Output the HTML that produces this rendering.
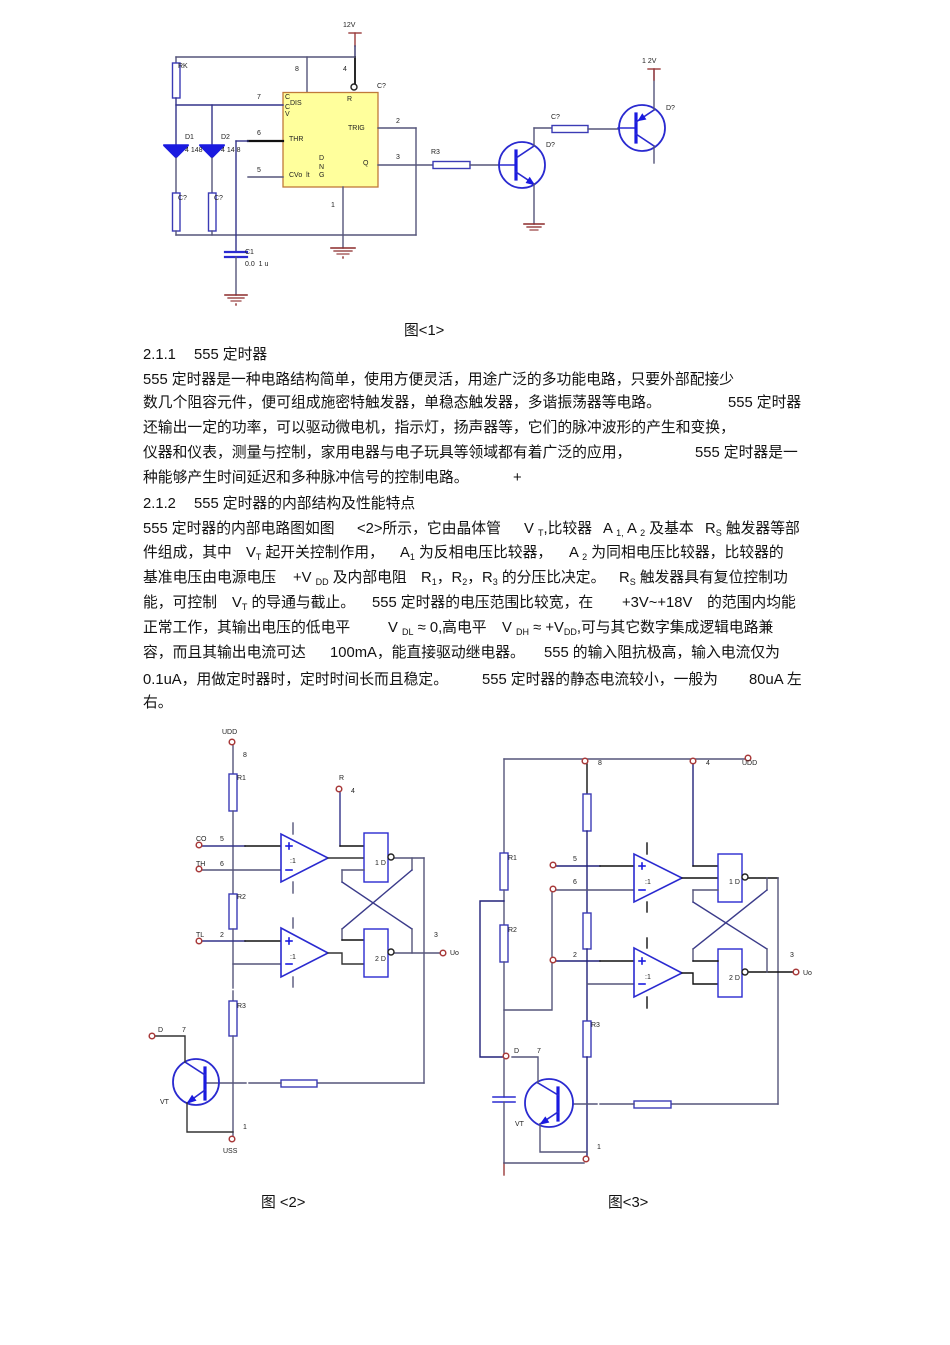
<!DOCTYPE html>
<html>
<head>
<meta charset="utf-8">
<style>
html,body{margin:0;padding:0;background:#fff;}
body{width:950px;height:1345px;position:relative;overflow:hidden;}
svg{position:absolute;left:0;top:0;}
.t{position:absolute;font-family:"Liberation Sans","Noto Sans CJK SC",sans-serif;font-size:14.8px;line-height:20px;white-space:nowrap;color:#111;}
.t sub{font-size:9px;vertical-align:-3px;line-height:0;}
</style>
</head>
<body>
<svg width="950" height="1345" viewBox="0 0 950 1345" xmlns="http://www.w3.org/2000/svg" font-family="Liberation Sans, sans-serif">
<g fill="none" stroke-width="1.4" stroke-linecap="square">
<!-- ================= FIG 1 ================= -->
<line x1="349" y1="33" x2="361" y2="33" stroke="#9a3a3a"/>
<line x1="355" y1="33" x2="355" y2="46" stroke="#9a3a3a"/>
<line x1="355" y1="46" x2="355" y2="57" stroke="#33336a"/>
<line x1="355" y1="57" x2="355" y2="84" stroke="#111" stroke-width="1.8"/>
<circle cx="354" cy="87" r="3" stroke="#222" fill="#fff"/>
<line x1="176" y1="57" x2="355" y2="57" stroke="#55557a"/>
<line x1="307" y1="57" x2="307" y2="92" stroke="#55557a"/>
<rect x="283" y="92.5" width="95" height="94.5" fill="#ffff9c" stroke="#c07a3a" stroke-width="1.3"/>
<line x1="176" y1="57" x2="176" y2="63" stroke="#55557a"/>
<rect x="172.5" y="63" width="7.5" height="35" stroke="#3b3bb5" fill="#fff"/>
<line x1="176" y1="98" x2="176" y2="145" stroke="#33338a"/>
<line x1="176" y1="105" x2="283" y2="105" stroke="#33338a"/>
<line x1="212" y1="105" x2="212" y2="145" stroke="#33338a"/>
<polygon points="164,146 188,146 176,158" fill="#1a1ae0" stroke="#1a1ae0" stroke-width="1"/>
<line x1="164" y1="145" x2="188" y2="145" stroke="#1a1ae0" stroke-width="1.6"/>
<polygon points="200,146 224,146 212,158" fill="#1a1ae0" stroke="#1a1ae0" stroke-width="1"/>
<line x1="200" y1="145" x2="224" y2="145" stroke="#1a1ae0" stroke-width="1.6"/>
<line x1="176" y1="158" x2="176" y2="193" stroke="#55557a"/>
<line x1="212" y1="158" x2="212" y2="193" stroke="#55557a"/>
<rect x="172.5" y="193" width="7.5" height="38" stroke="#3b3bb5" fill="#fff"/>
<rect x="208.5" y="193" width="7.5" height="38" stroke="#3b3bb5" fill="#fff"/>
<line x1="176" y1="231" x2="176" y2="235" stroke="#55557a"/>
<line x1="212" y1="231" x2="212" y2="235" stroke="#55557a"/>
<line x1="176" y1="235" x2="416" y2="235" stroke="#55557a"/>
<line x1="416" y1="128" x2="416" y2="235" stroke="#55557a"/>
<line x1="378" y1="128" x2="416" y2="128" stroke="#55557a"/>
<line x1="378" y1="165" x2="433" y2="165" stroke="#55557a"/>
<line x1="248" y1="141" x2="283" y2="141" stroke="#111" stroke-width="2.2"/>
<line x1="236" y1="141" x2="248" y2="141" stroke="#33338a"/>
<line x1="236" y1="141" x2="236" y2="252" stroke="#33338a"/>
<line x1="225" y1="252" x2="247" y2="252" stroke="#2a2ad0" stroke-width="2.2"/>
<line x1="225" y1="257" x2="247" y2="257" stroke="#2a2ad0" stroke-width="2.2"/>
<line x1="236" y1="257" x2="236" y2="295" stroke="#55557a"/>
<line x1="225" y1="295" x2="247" y2="295" stroke="#8b2a2a" stroke-width="1.6"/>
<line x1="228" y1="298" x2="244" y2="298" stroke="#8b2a2a" stroke-width="1.3"/>
<line x1="231" y1="301" x2="241" y2="301" stroke="#8b2a2a" stroke-width="1.1"/>
<line x1="236" y1="304" x2="236" y2="305" stroke="#8b2a2a"/>
<line x1="248" y1="177" x2="283" y2="177" stroke="#55557a"/>
<line x1="343" y1="187" x2="343" y2="248" stroke="#55557a"/>
<line x1="331" y1="248" x2="355" y2="248" stroke="#8b2a2a" stroke-width="1.6"/>
<line x1="334" y1="251" x2="352" y2="251" stroke="#8b2a2a" stroke-width="1.3"/>
<line x1="337" y1="254" x2="349" y2="254" stroke="#8b2a2a" stroke-width="1.1"/>
<line x1="343" y1="257" x2="343" y2="258" stroke="#8b2a2a"/>
<rect x="433" y="161.5" width="37" height="7" stroke="#3b3bb5" fill="#fff"/>
<line x1="470" y1="165" x2="499" y2="165" stroke="#55557a"/>
<circle cx="522" cy="165" r="23" stroke="#2a2ad0" stroke-width="1.8"/>
<line x1="499" y1="165" x2="516" y2="165" stroke="#2a2ad0"/>
<line x1="516" y1="151" x2="516" y2="179" stroke="#1a1ae0" stroke-width="3.2"/>
<line x1="516" y1="158" x2="534" y2="146" stroke="#2a2ad0" stroke-width="1.6"/>
<line x1="516" y1="172" x2="534" y2="184" stroke="#2a2ad0" stroke-width="1.6"/>
<polygon points="534,184.5 526.4,182.7 529.7,177.7" fill="#1a1ae0" stroke="#1a1ae0" stroke-width="1"/>
<line x1="534" y1="146" x2="534" y2="128" stroke="#55557a"/>
<line x1="534" y1="128" x2="552" y2="128" stroke="#55557a"/>
<line x1="534" y1="184" x2="534" y2="224" stroke="#55557a"/>
<line x1="524" y1="224" x2="544" y2="224" stroke="#8b2a2a" stroke-width="1.6"/>
<line x1="527" y1="227" x2="541" y2="227" stroke="#8b2a2a" stroke-width="1.3"/>
<line x1="530" y1="230" x2="538" y2="230" stroke="#8b2a2a" stroke-width="1.1"/>
<rect x="552" y="125.5" width="36" height="7" stroke="#3b3bb5" fill="#fff"/>
<line x1="588" y1="129" x2="618" y2="129" stroke="#55557a"/>
<circle cx="642" cy="128" r="23" stroke="#2a2ad0" stroke-width="1.8"/>
<line x1="618" y1="128" x2="636" y2="128" stroke="#2a2ad0"/>
<line x1="636" y1="114" x2="636" y2="142" stroke="#1a1ae0" stroke-width="3.2"/>
<line x1="636" y1="122" x2="654" y2="110" stroke="#2a2ad0" stroke-width="1.6"/>
<line x1="636" y1="134" x2="654" y2="146" stroke="#2a2ad0" stroke-width="1.6"/>
<polygon points="638.5,120.5 645.6,119.2 642.3,114.2" fill="#1a1ae0" stroke="#1a1ae0" stroke-width="1"/>
<line x1="654" y1="110" x2="654" y2="69" stroke="#55557a"/>
<line x1="648" y1="69" x2="660" y2="69" stroke="#9a3a3a"/>
<line x1="654" y1="69" x2="654" y2="80" stroke="#9a3a3a"/>
<line x1="654" y1="146" x2="654" y2="163" stroke="#55557a"/>

<!-- ================= FIG 2 ================= -->
<line x1="233" y1="745" x2="233" y2="774" stroke="#55557a"/>
<rect x="229" y="774" width="8" height="37" stroke="#3b3bb5" fill="#fff"/>
<line x1="233" y1="811" x2="233" y2="894" stroke="#55557a"/>
<rect x="229" y="894" width="8" height="35" stroke="#3b3bb5" fill="#fff"/>
<line x1="233" y1="929" x2="233" y2="988" stroke="#55557a"/>
<line x1="233" y1="991" x2="233" y2="1001" stroke="#55557a"/>
<rect x="229" y="1001" width="8" height="35" stroke="#3b3bb5" fill="#fff"/>
<line x1="233" y1="1036" x2="233" y2="1136" stroke="#55557a"/>
<line x1="202" y1="846" x2="245" y2="846" stroke="#33338a"/>
<line x1="245" y1="846" x2="281" y2="846" stroke="#111"/>
<line x1="202" y1="870" x2="281" y2="870" stroke="#55557a"/>
<polygon points="281,834 281,882 328,858" stroke="#2a2ad0" stroke-width="1.6" fill="#fff"/>
<line x1="293" y1="823" x2="293" y2="834" stroke="#55557a"/>
<line x1="293" y1="882" x2="293" y2="893" stroke="#55557a"/>
<line x1="286" y1="846" x2="292" y2="846" stroke="#1a1ae0" stroke-width="1.6"/>
<line x1="289" y1="843" x2="289" y2="849" stroke="#1a1ae0" stroke-width="1.6"/>
<line x1="286" y1="870" x2="292" y2="870" stroke="#1a1ae0" stroke-width="1.6"/>
<line x1="328" y1="858" x2="364" y2="858" stroke="#333"/>
<line x1="340" y1="792" x2="340" y2="846" stroke="#33338a"/>
<line x1="340" y1="846" x2="364" y2="846" stroke="#111"/>
<rect x="364" y="833" width="24" height="49" stroke="#2a2ad0" fill="#fff"/>
<line x1="394" y1="858" x2="424" y2="858" stroke="#55557a"/>
<line x1="424" y1="858" x2="424" y2="1083" stroke="#55557a"/>
<line x1="342" y1="870" x2="364" y2="870" stroke="#55557a"/>
<line x1="342" y1="870" x2="342" y2="882" stroke="#55557a"/>
<line x1="342" y1="882" x2="412" y2="929" stroke="#3b3b8a"/>
<line x1="412" y1="858" x2="412" y2="870" stroke="#55557a"/>
<line x1="412" y1="870" x2="342" y2="929" stroke="#3b3b8a"/>
<line x1="342" y1="929" x2="342" y2="940" stroke="#55557a"/>
<line x1="342" y1="940" x2="364" y2="940" stroke="#111"/>
<line x1="412" y1="929" x2="412" y2="953" stroke="#55557a"/>
<line x1="202" y1="941" x2="245" y2="941" stroke="#33338a"/>
<line x1="245" y1="941" x2="281" y2="941" stroke="#111"/>
<line x1="233" y1="964" x2="281" y2="964" stroke="#55557a"/>
<polygon points="281,928 281,977 328,953" stroke="#2a2ad0" stroke-width="1.6" fill="#fff"/>
<line x1="293" y1="918" x2="293" y2="928" stroke="#55557a"/>
<line x1="293" y1="977" x2="293" y2="987" stroke="#55557a"/>
<line x1="286" y1="941" x2="292" y2="941" stroke="#1a1ae0" stroke-width="1.6"/>
<line x1="289" y1="938" x2="289" y2="944" stroke="#1a1ae0" stroke-width="1.6"/>
<line x1="286" y1="964" x2="292" y2="964" stroke="#1a1ae0" stroke-width="1.6"/>
<polyline points="328,953 342,953 342,964 364,964" stroke="#333"/>
<rect x="364" y="929" width="24" height="48" stroke="#2a2ad0" fill="#fff"/>
<line x1="394" y1="953" x2="440" y2="953" stroke="#55557a"/>
<line x1="424" y1="1083" x2="317" y2="1083" stroke="#55557a"/>
<rect x="281" y="1080" width="36" height="7" stroke="#3b3bb5" fill="#fff"/>
<line x1="281" y1="1083" x2="249" y2="1083" stroke="#55557a"/>
<line x1="246" y1="1083" x2="207" y2="1083" stroke="#55557a"/>
<circle cx="196" cy="1082" r="23" stroke="#2a2ad0" stroke-width="1.8"/>
<line x1="205" y1="1068" x2="205" y2="1099" stroke="#1a1ae0" stroke-width="3.2"/>
<line x1="205" y1="1075" x2="185" y2="1062" stroke="#2a2ad0" stroke-width="1.6"/>
<line x1="205" y1="1090" x2="187" y2="1103" stroke="#2a2ad0" stroke-width="1.6"/>
<polygon points="187.5,1103 195.7,1100.4 192.1,1095.6" fill="#1a1ae0" stroke="#1a1ae0" stroke-width="1"/>
<polyline points="185,1062 185,1036 155,1036" stroke="#333"/>
<polyline points="187,1103 187,1132 233,1132" stroke="#333"/>
<g stroke="#a83a3a" stroke-width="1.5" fill="#fff">
<circle cx="232" cy="742" r="2.8"/>
<circle cx="339" cy="789" r="2.8"/>
<circle cx="199" cy="845" r="2.8"/>
<circle cx="199" cy="869" r="2.8"/>
<circle cx="199" cy="941" r="2.8"/>
<circle cx="443" cy="953" r="2.8"/>
<circle cx="152" cy="1036" r="2.8"/>
<circle cx="232" cy="1139" r="2.8"/>
</g>
<circle cx="391" cy="857" r="3" stroke="#222" fill="#fff"/>
<circle cx="391" cy="952" r="3" stroke="#222" fill="#fff"/>

<!-- ================= FIG 3 ================= -->
<line x1="504" y1="759" x2="745" y2="759" stroke="#55557a"/>
<line x1="504" y1="759" x2="504" y2="853" stroke="#55557a"/>
<rect x="500" y="853" width="8" height="37" stroke="#3b3bb5" fill="#fff"/>
<line x1="504" y1="890" x2="504" y2="925" stroke="#55557a"/>
<rect x="500" y="925" width="8" height="37" stroke="#3b3bb5" fill="#fff"/>
<line x1="504" y1="962" x2="504" y2="1097" stroke="#55557a"/>
<line x1="493" y1="1097" x2="515" y2="1097" stroke="#2a2ad0" stroke-width="1.6"/>
<line x1="493" y1="1102" x2="515" y2="1102" stroke="#2a2ad0" stroke-width="1.6"/>
<line x1="504" y1="1102" x2="504" y2="1163" stroke="#55557a"/>
<line x1="504" y1="1163" x2="504" y2="1175" stroke="#9a3a3a"/>
<line x1="504" y1="1163" x2="584" y2="1163" stroke="#55557a"/>
<polyline points="504,901 480,901 480,1057 503,1057" stroke="#22227a"/>
<line x1="587" y1="764" x2="587" y2="794" stroke="#111"/>
<rect x="583" y="794" width="8" height="37" stroke="#3b3bb5" fill="#fff"/>
<line x1="587" y1="831" x2="587" y2="913" stroke="#22227a"/>
<rect x="583" y="913" width="8" height="36" stroke="#3b3bb5" fill="#fff"/>
<line x1="587" y1="949" x2="587" y2="1021" stroke="#22227a"/>
<rect x="583" y="1021" width="8" height="36" stroke="#3b3bb5" fill="#fff"/>
<line x1="587" y1="1057" x2="587" y2="1156" stroke="#22227a"/>
<line x1="556" y1="866" x2="600" y2="866" stroke="#22227a"/>
<line x1="600" y1="866" x2="634" y2="866" stroke="#111"/>
<line x1="556" y1="890" x2="634" y2="890" stroke="#55557a"/>
<line x1="552" y1="892" x2="552" y2="957" stroke="#55557a"/>
<polyline points="552,963 552,1010 504,1010" stroke="#55557a"/>
<line x1="556" y1="961" x2="600" y2="961" stroke="#22227a"/>
<line x1="600" y1="961" x2="634" y2="961" stroke="#111"/>
<line x1="587" y1="984" x2="634" y2="984" stroke="#55557a"/>
<polygon points="634,854 634,902 682,878" stroke="#2a2ad0" stroke-width="1.6" fill="#fff"/>
<line x1="647" y1="843" x2="647" y2="854" stroke="#111"/>
<line x1="647" y1="902" x2="647" y2="912" stroke="#111"/>
<line x1="639" y1="866" x2="645" y2="866" stroke="#1a1ae0" stroke-width="1.6"/>
<line x1="642" y1="863" x2="642" y2="869" stroke="#1a1ae0" stroke-width="1.6"/>
<line x1="639" y1="890" x2="645" y2="890" stroke="#1a1ae0" stroke-width="1.6"/>
<polygon points="634,948 634,997 682,973" stroke="#2a2ad0" stroke-width="1.6" fill="#fff"/>
<line x1="647" y1="938" x2="647" y2="948" stroke="#111"/>
<line x1="647" y1="997" x2="647" y2="1008" stroke="#111"/>
<line x1="639" y1="961" x2="645" y2="961" stroke="#1a1ae0" stroke-width="1.6"/>
<line x1="642" y1="958" x2="642" y2="964" stroke="#1a1ae0" stroke-width="1.6"/>
<line x1="639" y1="984" x2="645" y2="984" stroke="#1a1ae0" stroke-width="1.6"/>
<line x1="682" y1="878" x2="718" y2="878" stroke="#111"/>
<polyline points="682,973 693,973 693,984 718,984" stroke="#111"/>
<line x1="693" y1="764" x2="693" y2="866" stroke="#22227a"/>
<line x1="693" y1="866" x2="718" y2="866" stroke="#111"/>
<rect x="718" y="854" width="24" height="48" stroke="#2a2ad0" fill="#fff"/>
<rect x="718" y="949" width="24" height="48" stroke="#2a2ad0" fill="#fff"/>
<line x1="748" y1="878" x2="778" y2="878" stroke="#111"/>
<line x1="778" y1="878" x2="778" y2="1104" stroke="#55557a"/>
<line x1="748" y1="972" x2="793" y2="972" stroke="#111"/>
<line x1="693" y1="890" x2="718" y2="890" stroke="#55557a"/>
<line x1="693" y1="890" x2="693" y2="902" stroke="#55557a"/>
<line x1="693" y1="902" x2="767" y2="949" stroke="#3b3b8a"/>
<line x1="767" y1="878" x2="767" y2="890" stroke="#55557a"/>
<line x1="767" y1="890" x2="693" y2="949" stroke="#3b3b8a"/>
<line x1="693" y1="949" x2="693" y2="961" stroke="#55557a"/>
<line x1="693" y1="961" x2="718" y2="961" stroke="#111"/>
<line x1="767" y1="949" x2="767" y2="972" stroke="#55557a"/>
<line x1="778" y1="1104" x2="671" y2="1104" stroke="#55557a"/>
<rect x="634" y="1101" width="37" height="7" stroke="#3b3bb5" fill="#fff"/>
<line x1="634" y1="1104" x2="600" y2="1104" stroke="#55557a"/>
<line x1="597" y1="1104" x2="573" y2="1104" stroke="#55557a"/>
<circle cx="549" cy="1103" r="24" stroke="#2a2ad0" stroke-width="1.8"/>
<line x1="558" y1="1088" x2="558" y2="1120" stroke="#1a1ae0" stroke-width="3.2"/>
<line x1="558" y1="1095" x2="538" y2="1083" stroke="#2a2ad0" stroke-width="1.6"/>
<line x1="558" y1="1112" x2="540" y2="1124" stroke="#2a2ad0" stroke-width="1.6"/>
<polygon points="540.5,1124 548.6,1122.2 545.3,1117.2" fill="#1a1ae0" stroke="#1a1ae0" stroke-width="1"/>
<polyline points="538,1083 538,1057 512,1057" stroke="#55557a"/>
<polyline points="540,1124 540,1152 587,1152" stroke="#55557a"/>
<g stroke="#a83a3a" stroke-width="1.5" fill="#fff">
<circle cx="585" cy="761" r="2.8"/>
<circle cx="693" cy="761" r="2.8"/>
<circle cx="748" cy="758" r="2.8"/>
<circle cx="553" cy="865" r="2.8"/>
<circle cx="553" cy="889" r="2.8"/>
<circle cx="553" cy="960" r="2.8"/>
<circle cx="796" cy="972" r="2.8"/>
<circle cx="506" cy="1056" r="2.8"/>
<circle cx="586" cy="1159" r="2.8"/>
</g>
<circle cx="745" cy="877" r="3" stroke="#222" fill="#fff"/>
<circle cx="745" cy="972" r="3" stroke="#222" fill="#fff"/>
</g>

<g font-size="7" fill="#222">
<text x="343" y="27">12V</text>
<text x="295" y="71">8</text>
<text x="343" y="71">4</text>
<text x="377" y="88">C?</text>
<text x="178" y="68">RK</text>
<text x="257" y="99">7</text>
<text x="257" y="135">6</text>
<text x="257" y="172">5</text>
<text x="331" y="207">1</text>
<text x="396" y="123">2</text>
<text x="396" y="159">3</text>
<text x="185" y="139">D1</text>
<text x="221" y="139">D2</text>
<text x="185" y="152">4 148</text>
<text x="221" y="152">4 14 8</text>
<text x="178" y="200">C?</text>
<text x="214" y="200">C?</text>
<text x="245" y="254">C1</text>
<text x="245" y="266">0.0&#160; 1 u</text>
<text x="285" y="99">C</text>
<text x="290" y="105">DIS</text>
<text x="285" y="109">C</text>
<text x="285" y="116">V</text>
<text x="347" y="101">R</text>
<text x="348" y="130">TRIG</text>
<text x="289" y="141">THR</text>
<text x="319" y="160">D</text>
<text x="319" y="169">N</text>
<text x="319" y="177">G</text>
<text x="289" y="177">CVo&#160; lt</text>
<text x="363" y="165">Q</text>
<text x="431" y="154">R3</text>
<text x="551" y="119">C?</text>
<text x="546" y="147">D?</text>
<text x="642" y="63">1 2V</text>
<text x="666" y="110">D?</text>

<text x="222" y="734">UDD</text>
<text x="243" y="757">8</text>
<text x="237" y="780">R1</text>
<text x="339" y="780">R</text>
<text x="351" y="793">4</text>
<text x="196" y="841">CO</text>
<text x="220" y="841">5</text>
<text x="196" y="866">TH</text>
<text x="220" y="866">6</text>
<text x="290" y="863">:1</text>
<text x="375" y="865">1 D</text>
<text x="237" y="899">R2</text>
<text x="196" y="937">TL</text>
<text x="220" y="937">2</text>
<text x="290" y="959">:1</text>
<text x="375" y="961">2 D</text>
<text x="434" y="937">3</text>
<text x="450" y="955">Uo</text>
<text x="237" y="1008">R3</text>
<text x="158" y="1032">D</text>
<text x="182" y="1032">7</text>
<text x="160" y="1104">VT</text>
<text x="243" y="1129">1</text>
<text x="223" y="1153">USS</text>

<text x="598" y="765">8</text>
<text x="706" y="765">4</text>
<text x="742" y="765">UDD</text>
<text x="508" y="860">R1</text>
<text x="508" y="932">R2</text>
<text x="573" y="861">5</text>
<text x="573" y="884">6</text>
<text x="573" y="957">2</text>
<text x="645" y="884">:1</text>
<text x="645" y="979">:1</text>
<text x="729" y="884">1 D</text>
<text x="729" y="980">2 D</text>
<text x="790" y="957">3</text>
<text x="803" y="975">Uo</text>
<text x="591" y="1027">R3</text>
<text x="514" y="1053">D</text>
<text x="537" y="1053">7</text>
<text x="515" y="1126">VT</text>
<text x="597" y="1149">1</text>
</g>
</svg>

<div class="t" style="left:404px;top:321px;">图&lt;1&gt;</div>
<div class="t" style="left:143px;top:345px;">2.1.1</div>
<div class="t" style="left:194px;top:345px;">555 定时器</div>
<div class="t" style="left:143px;top:370px;">555 定时器是一种电路结构简单，使用方便灵活，用途广泛的多功能电路，只要外部配接少</div>
<div class="t" style="left:143px;top:393px;">数几个阻容元件，便可组成施密特触发器，单稳态触发器，多谐振荡器等电路。</div>
<div class="t" style="left:728px;top:393px;">555 定时器</div>
<div class="t" style="left:143px;top:418px;">还输出一定的功率，可以驱动微电机，指示灯，扬声器等，它们的脉冲波形的产生和变换，</div>
<div class="t" style="left:143px;top:443px;">仪器和仪表，测量与控制，家用电器与电子玩具等领域都有着广泛的应用，</div>
<div class="t" style="left:695px;top:443px;">555 定时器是一</div>
<div class="t" style="left:143px;top:468px;">种能够产生时间延迟和多种脉冲信号的控制电路。</div>
<div class="t" style="left:513px;top:468px;">+</div>
<div class="t" style="left:143px;top:494px;">2.1.2</div>
<div class="t" style="left:194px;top:494px;">555 定时器的内部结构及性能特点</div>

<div class="t" style="left:143px;top:519px;">555 定时器的内部电路图如图</div>
<div class="t" style="left:357px;top:519px;">&lt;2&gt;所示，它由晶体管</div>
<div class="t" style="left:524px;top:519px;">V <sub>T</sub>,比较器</div>
<div class="t" style="left:603px;top:519px;">A <sub>1,</sub> A <sub>2</sub> 及基本</div>
<div class="t" style="left:705px;top:519px;">R<sub>S</sub> 触发器等部</div>

<div class="t" style="left:143px;top:543px;">件组成，其中</div>
<div class="t" style="left:246px;top:543px;">V<sub>T</sub> 起开关控制作用，</div>
<div class="t" style="left:400px;top:543px;">A<sub>1</sub> 为反相电压比较器，</div>
<div class="t" style="left:569px;top:543px;">A <sub>2</sub> 为同相电压比较器，比较器的</div>

<div class="t" style="left:143px;top:568px;">基准电压由电源电压</div>
<div class="t" style="left:293px;top:568px;">+V <sub>DD</sub> 及内部电阻</div>
<div class="t" style="left:421px;top:568px;">R<sub>1</sub>，R<sub>2</sub>，R<sub>3</sub> 的分压比决定。</div>
<div class="t" style="left:619px;top:568px;">R<sub>S</sub> 触发器具有复位控制功</div>

<div class="t" style="left:143px;top:593px;">能，可控制</div>
<div class="t" style="left:232px;top:593px;">V<sub>T</sub> 的导通与截止。</div>
<div class="t" style="left:372px;top:593px;">555 定时器的电压范围比较宽，在</div>
<div class="t" style="left:622px;top:593px;">+3V~+18V</div>
<div class="t" style="left:707px;top:593px;">的范围内均能</div>

<div class="t" style="left:143px;top:618px;">正常工作，其输出电压的低电平</div>
<div class="t" style="left:388px;top:618px;">V <sub>DL</sub> ≈ 0,高电平</div>
<div class="t" style="left:502px;top:618px;">V <sub>DH</sub> ≈ +V<sub>DD</sub>,可与其它数字集成逻辑电路兼</div>

<div class="t" style="left:143px;top:643px;">容，而且其输出电流可达</div>
<div class="t" style="left:330px;top:643px;">100mA，能直接驱动继电器。</div>
<div class="t" style="left:544px;top:643px;">555 的输入阻抗极高，输入电流仅为</div>

<div class="t" style="left:143px;top:670px;">0.1uA，用做定时器时，定时时间长而且稳定。</div>
<div class="t" style="left:482px;top:670px;">555 定时器的静态电流较小，一般为</div>
<div class="t" style="left:749px;top:670px;">80uA 左</div>
<div class="t" style="left:143px;top:693px;">右。</div>

<div class="t" style="left:261px;top:1193px;">图 &lt;2&gt;</div>
<div class="t" style="left:608px;top:1193px;">图&lt;3&gt;</div>
</body>
</html>
